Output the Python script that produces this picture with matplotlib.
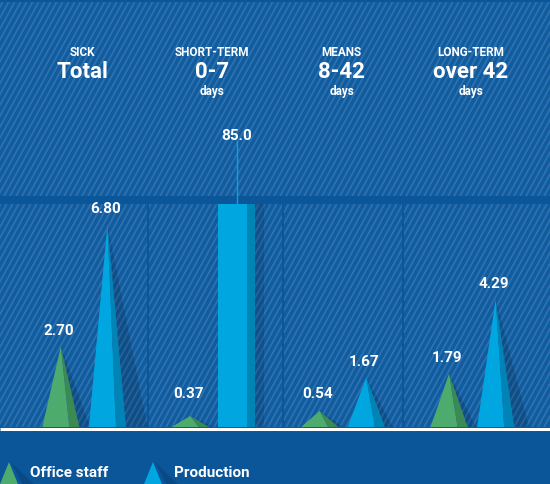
import matplotlib
matplotlib.use("Agg")
import matplotlib.pyplot as plt
from matplotlib.patches import Polygon, Rectangle
from matplotlib.collections import LineCollection
from matplotlib.transforms import blended_transform_factory

plt.rcParams['font.family'] = ['Roboto', 'DejaVu Sans']

# data
head_small = ["SICK", "SHORT-TERM", "MEANS", "LONG-TERM"]
head_big = ["Total", "0-7", "8-42", "over 42"]
head_unit = ["", "days", "days", "days"]
office = [2.70, 0.37, 0.54, 1.79]
production = [6.80, 85.0, 1.67, 4.29]
legend_names = ["Office staff", "Production"]

BAND = "#0b5599"
BASE = "#0f5c9f"
STRIPE = "#3070ae"
GREEN, GREEN_D = "#4dab6d", "#3b8a54"
BLUE, BLUE_D = "#00a6e0", "#0084b6"

W, H = 550, 485
fig = plt.figure(figsize=(5.5, 4.85), dpi=100)
fig.patch.set_facecolor(BAND)

# background layer in pixel coords
bg = fig.add_axes([0, 0, 1, 1])
bg.set_xlim(0, W)
bg.set_ylim(H, 0)
bg.axis("off")

for (y0, y1) in [(3, 197), (205, 428)]:
    r = Rectangle((0, y0), W, y1 - y0, facecolor=BASE, edgecolor="none")
    bg.add_patch(r)
    segs = []
    x = -200.0
    while x < W + 10:
        segs.append([(x, y1), (x + 0.55 * (y1 - y0), y0)])
        x += 6.0
    lc = LineCollection(segs, colors=STRIPE, linewidths=1.3)
    bg.add_collection(lc)
    lc.set_clip_path(r)

for sx in [148, 283, 403]:
    bg.plot([sx, sx], [205, 428], color=BAND, lw=1.4)
bg.plot([0, W], [429.8, 429.8], color="white", lw=2.2, solid_capstyle="butt")

# main chart area
ax = fig.add_axes([0, 57 / H, 1, 223 / H])
ax.patch.set_alpha(0)
ax.axis("off")
ytop = 223 / 29.8
ax.set_xlim(-0.65, 3.60)
ax.set_ylim(0, ytop)

off = 0.18
hw = 0.143


def draw_tri(xc, h, c, cd):
    l, r = xc - hw, xc + hw
    split = l + 0.73 * (r - l)
    sh = Polygon([(xc, h), (r, 0), (r + 0.03 + 0.02 * h, 0)],
                 facecolor="black", alpha=0.14, edgecolor="none", zorder=2)
    ax.add_patch(sh)
    ax.add_patch(Polygon([(l, 0), (xc, h), (split, 0)], facecolor=c,
                         edgecolor="none", zorder=3))
    ax.add_patch(Polygon([(split, 0), (xc, h), (r, 0)], facecolor=cd,
                         edgecolor="none", zorder=3))


def fmt(v):
    return f"{v:.1f}" if v >= 10 else f"{v:.2f}"


for i in range(len(head_small)):
    for v, dx, c, cd in [(office[i], -off, GREEN, GREEN_D),
                         (production[i], off, BLUE, BLUE_D)]:
        xc = i + dx
        if v > ytop:
            # value off the scale: clipped bar with a pointer line
            ax.add_patch(Rectangle((xc + hw, 0), 0.07, ytop, facecolor="black",
                                   alpha=0.12, edgecolor="none", zorder=2))
            ax.bar(xc, ytop, width=2 * hw, color=c, zorder=3)
            ax.bar(xc + hw * 0.78, ytop, width=2 * hw * 0.22, color=cd, zorder=3)
            ax.plot([xc, xc], [ytop, ytop + 2.1], color=BLUE, lw=1, clip_on=False)
            ax.text(xc, ytop + 2.3, fmt(v), color="white", fontsize=11,
                    fontweight="bold", ha="center", va="center")
        else:
            draw_tri(xc, v, c, cd)
            ax.text(xc - 0.015, max(v + 0.55, 1.15), fmt(v), color="white",
                    fontsize=11, fontweight="bold", ha="center", va="center",
                    clip_on=False, zorder=5)

tr = blended_transform_factory(ax.transData, bg.transData)
for i in range(len(head_small)):
    ax.text(i - 0.01, 53, head_small[i], transform=tr, color="white", fontsize=8.5,
            fontweight="bold", ha="center", va="center")
    ax.text(i - 0.01, 72, head_big[i], transform=tr, color="white", fontsize=16,
            fontweight="bold", ha="center", va="center")
    if head_unit[i]:
        ax.text(i - 0.01, 91, head_unit[i], transform=tr, color="white", fontsize=8.5,
                fontweight="bold", ha="center", va="center")

# legend
for lx, c, cd, name in [(9, GREEN, GREEN_D, legend_names[0]),
                        (153, BLUE, BLUE_D, legend_names[1])]:
    bg.add_patch(Polygon([(lx + 2, 463), (lx + 16, 490), (lx + 30, 490)],
                         facecolor="black", alpha=0.12, edgecolor="none"))
    bg.add_patch(Polygon([(lx - 11, 490), (lx, 463), (lx + 11, 490)],
                         facecolor=c, edgecolor="none"))
    bg.text(lx + 21, 473, name, color="white", fontsize=11, fontweight="bold",
            ha="left", va="center")

fig.savefig("out.png", dpi=100, facecolor=fig.get_facecolor())
